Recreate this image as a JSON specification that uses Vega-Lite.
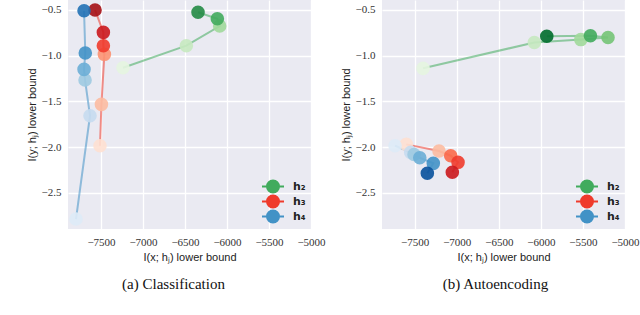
{
  "$schema": "https://vega.github.io/schema/vega-lite/v6.json",
  "padding": {"left": 26, "top": 0, "right": 0, "bottom": 0},
  "spacing": 71,
  "bounds": "flush",
  "datasets": {
    "cls": [
      {"series": "h₂", "step": 1, "x": -7238, "y": -1.133, "shade": "G1"},
      {"series": "h₂", "step": 2, "x": -6484, "y": -0.893, "shade": "G2"},
      {"series": "h₂", "step": 3, "x": -6087, "y": -0.678, "shade": "G3"},
      {"series": "h₂", "step": 4, "x": -6115, "y": -0.598, "shade": "G5"},
      {"series": "h₂", "step": 5, "x": -6345, "y": -0.528, "shade": "G6"},
      {"series": "h₃", "step": 1, "x": -7512, "y": -1.985, "shade": "R1"},
      {"series": "h₃", "step": 2, "x": -7495, "y": -1.533, "shade": "R2"},
      {"series": "h₃", "step": 3, "x": -7460, "y": -0.987, "shade": "R3"},
      {"series": "h₃", "step": 4, "x": -7472, "y": -0.893, "shade": "R5"},
      {"series": "h₃", "step": 5, "x": -7472, "y": -0.747, "shade": "R6"},
      {"series": "h₃", "step": 6, "x": -7571, "y": -0.503, "shade": "R7"},
      {"series": "h₄", "step": 1, "x": -7798, "y": -2.785, "shade": "B1"},
      {"series": "h₄", "step": 2, "x": -7631, "y": -1.657, "shade": "B2"},
      {"series": "h₄", "step": 3, "x": -7690, "y": -1.268, "shade": "B3"},
      {"series": "h₄", "step": 4, "x": -7702, "y": -1.151, "shade": "B4"},
      {"series": "h₄", "step": 5, "x": -7687, "y": -0.973, "shade": "B5"},
      {"series": "h₄", "step": 6, "x": -7702, "y": -0.511, "shade": "B6"}
    ],
    "ae": [
      {"series": "h₂", "step": 1, "x": -7401, "y": -1.140, "shade": "G1"},
      {"series": "h₂", "step": 2, "x": -6078, "y": -0.858, "shade": "G2"},
      {"series": "h₂", "step": 3, "x": -5525, "y": -0.826, "shade": "G3"},
      {"series": "h₂", "step": 4, "x": -5202, "y": -0.804, "shade": "G4"},
      {"series": "h₂", "step": 5, "x": -5411, "y": -0.784, "shade": "G5"},
      {"series": "h₂", "step": 6, "x": -5930, "y": -0.790, "shade": "G7"},
      {"series": "h₃", "step": 1, "x": -7600, "y": -1.970, "shade": "R1"},
      {"series": "h₃", "step": 2, "x": -7211, "y": -2.043, "shade": "R2"},
      {"series": "h₃", "step": 3, "x": -7072, "y": -2.094, "shade": "R4"},
      {"series": "h₃", "step": 4, "x": -6985, "y": -2.166, "shade": "R5"},
      {"series": "h₃", "step": 5, "x": -7053, "y": -2.275, "shade": "R6"},
      {"series": "h₄", "step": 1, "x": -7734, "y": -1.985, "shade": "B1"},
      {"series": "h₄", "step": 2, "x": -7548, "y": -2.057, "shade": "B2"},
      {"series": "h₄", "step": 3, "x": -7508, "y": -2.081, "shade": "B3"},
      {"series": "h₄", "step": 4, "x": -7440, "y": -2.116, "shade": "B4"},
      {"series": "h₄", "step": 5, "x": -7279, "y": -2.177, "shade": "B5"},
      {"series": "h₄", "step": 6, "x": -7350, "y": -2.286, "shade": "B7"}
    ]
  },
  "resolve": {"scale": {"color": "independent", "fill": "independent"}},
  "hconcat": [
    {
      "width": 243,
      "height": 229,
      "data": {"name": "cls"},
      "title": {"text": "(a) Classification", "orient": "bottom", "anchor": "middle", "frame": "group", "dx": -16, "offset": 15},
      "encoding": {
        "x": {"field": "x", "type": "quantitative", "scale": {"domain": [-7893, -5000], "nice": false, "zero": false},
              "axis": {"values": [-7500, -7000, -6500, -6000, -5500, -5000], "format": "d", "title": "I(x; hⱼ) lower bound"}},
        "y": {"field": "y", "type": "quantitative", "scale": {"domain": [-2.894, -0.394], "nice": false, "zero": false},
              "axis": {"values": [-2.5, -2, -1.5, -1, -0.5], "format": ".1f", "title": "I(y; hⱼ) lower bound"}}
      },
      "layer": [
        {
          "mark": {"type": "line", "strokeWidth": 2, "opacity": 0.55},
          "encoding": {
            "detail": {"field": "series"},
            "order": {"field": "step", "type": "quantitative"},
            "color": {"field": "series", "type": "nominal",
                      "scale": {"domain": ["h₂", "h₃", "h₄"], "range": ["#41ab5d", "#ef3b2c", "#4292c6"]},
                      "legend": {"orient": "bottom-right", "title": null, "offset": 5, "padding": 0,
                                 "symbolType": "M-1,0L1,0M0.545,0A0.545,0.545,0,1,1,-0.545,0A0.545,0.545,0,1,1,0.545,0M0.427,0A0.427,0.427,0,1,1,-0.427,0A0.427,0.427,0,1,1,0.427,0M0.309,0A0.309,0.309,0,1,1,-0.309,0A0.309,0.309,0,1,1,0.309,0M0.191,0A0.191,0.191,0,1,1,-0.191,0A0.191,0.191,0,1,1,0.191,0M0.073,0A0.073,0.073,0,1,1,-0.073,0A0.073,0.073,0,1,1,0.073,0",
                                 "symbolSize": 484, "symbolStrokeWidth": 2, "symbolOpacity": 1,
                                 "labelFont": "DejaVu Sans", "labelFontWeight": "bold", "labelFontSize": 11, "labelColor": "#222",
                                 "labelOffset": 8, "rowPadding": 0, "clipHeight": 15}}
          }
        },
        {
          "mark": {"type": "point", "shape": "circle", "filled": true, "size": 185, "opacity": 0.9, "strokeWidth": 0},
          "encoding": {
            "fill": {"field": "shade", "type": "nominal", "legend": null,
                     "scale": {"domain": ["G1","G2","G3","G4","G5","G6","G7","R1","R2","R3","R4","R5","R6","R7","B1","B2","B3","B4","B5","B6","B7"],
                               "range": ["#e5f5e0","#c7e9c0","#a1d99b","#74c476","#41ab5d","#238b45","#006d2c","#fee0d2","#fcbba1","#fc9272","#fb6a4a","#ef3b2c","#cb181d","#a50f15","#deebf7","#c6dbef","#9ecae1","#6baed6","#4292c6","#2171b5","#08519c"]}}
          }
        }
      ]
    },
    {
      "width": 243,
      "height": 229,
      "data": {"name": "ae"},
      "title": {"text": "(b) Autoencoding", "orient": "bottom", "anchor": "middle", "frame": "group", "dx": -8, "offset": 15},
      "encoding": {
        "x": {"field": "x", "type": "quantitative", "scale": {"domain": [-7889, -5000], "nice": false, "zero": false},
              "axis": {"values": [-7500, -7000, -6500, -6000, -5500, -5000], "format": "d", "title": "I(x; hⱼ) lower bound"}},
        "y": {"field": "y", "type": "quantitative", "scale": {"domain": [-2.894, -0.394], "nice": false, "zero": false},
              "axis": {"values": [-2.5, -2, -1.5, -1, -0.5], "format": ".1f", "title": "I(y; hⱼ) lower bound"}}
      },
      "layer": [
        {
          "mark": {"type": "line", "strokeWidth": 2, "opacity": 0.55},
          "encoding": {
            "detail": {"field": "series"},
            "order": {"field": "step", "type": "quantitative"},
            "color": {"field": "series", "type": "nominal",
                      "scale": {"domain": ["h₂", "h₃", "h₄"], "range": ["#41ab5d", "#ef3b2c", "#4292c6"]},
                      "legend": {"orient": "bottom-right", "title": null, "offset": 5, "padding": 0,
                                 "symbolType": "M-1,0L1,0M0.545,0A0.545,0.545,0,1,1,-0.545,0A0.545,0.545,0,1,1,0.545,0M0.427,0A0.427,0.427,0,1,1,-0.427,0A0.427,0.427,0,1,1,0.427,0M0.309,0A0.309,0.309,0,1,1,-0.309,0A0.309,0.309,0,1,1,0.309,0M0.191,0A0.191,0.191,0,1,1,-0.191,0A0.191,0.191,0,1,1,0.191,0M0.073,0A0.073,0.073,0,1,1,-0.073,0A0.073,0.073,0,1,1,0.073,0",
                                 "symbolSize": 484, "symbolStrokeWidth": 2, "symbolOpacity": 1,
                                 "labelFont": "DejaVu Sans", "labelFontWeight": "bold", "labelFontSize": 11, "labelColor": "#222",
                                 "labelOffset": 8, "rowPadding": 0, "clipHeight": 15}}
          }
        },
        {
          "mark": {"type": "point", "shape": "circle", "filled": true, "size": 185, "opacity": 0.9, "strokeWidth": 0},
          "encoding": {
            "fill": {"field": "shade", "type": "nominal", "legend": null,
                     "scale": {"domain": ["G1","G2","G3","G4","G5","G6","G7","R1","R2","R3","R4","R5","R6","R7","B1","B2","B3","B4","B5","B6","B7"],
                               "range": ["#e5f5e0","#c7e9c0","#a1d99b","#74c476","#41ab5d","#238b45","#006d2c","#fee0d2","#fcbba1","#fc9272","#fb6a4a","#ef3b2c","#cb181d","#a50f15","#deebf7","#c6dbef","#9ecae1","#6baed6","#4292c6","#2171b5","#08519c"]}}
          }
        }
      ]
    }
  ],
  "config": {
    "background": "white",
    "view": {"fill": "#eaeaf2", "stroke": null},
    "axis": {
      "domain": false, "ticks": false, "gridColor": "white", "gridWidth": 1.3, "gridOpacity": 1,
      "labelFont": "Liberation Serif", "labelFontSize": 11, "labelColor": "#333", "labelPadding": 7,
      "labelFlush": false, "labelOverlap": false,
      "titleFont": "Liberation Sans", "titleFontSize": 11, "titleFontWeight": "normal", "titleColor": "#222", "titlePadding": 4
    },
    "title": {"font": "Liberation Serif", "fontSize": 15, "fontWeight": "normal", "color": "#111"}
  }
}
